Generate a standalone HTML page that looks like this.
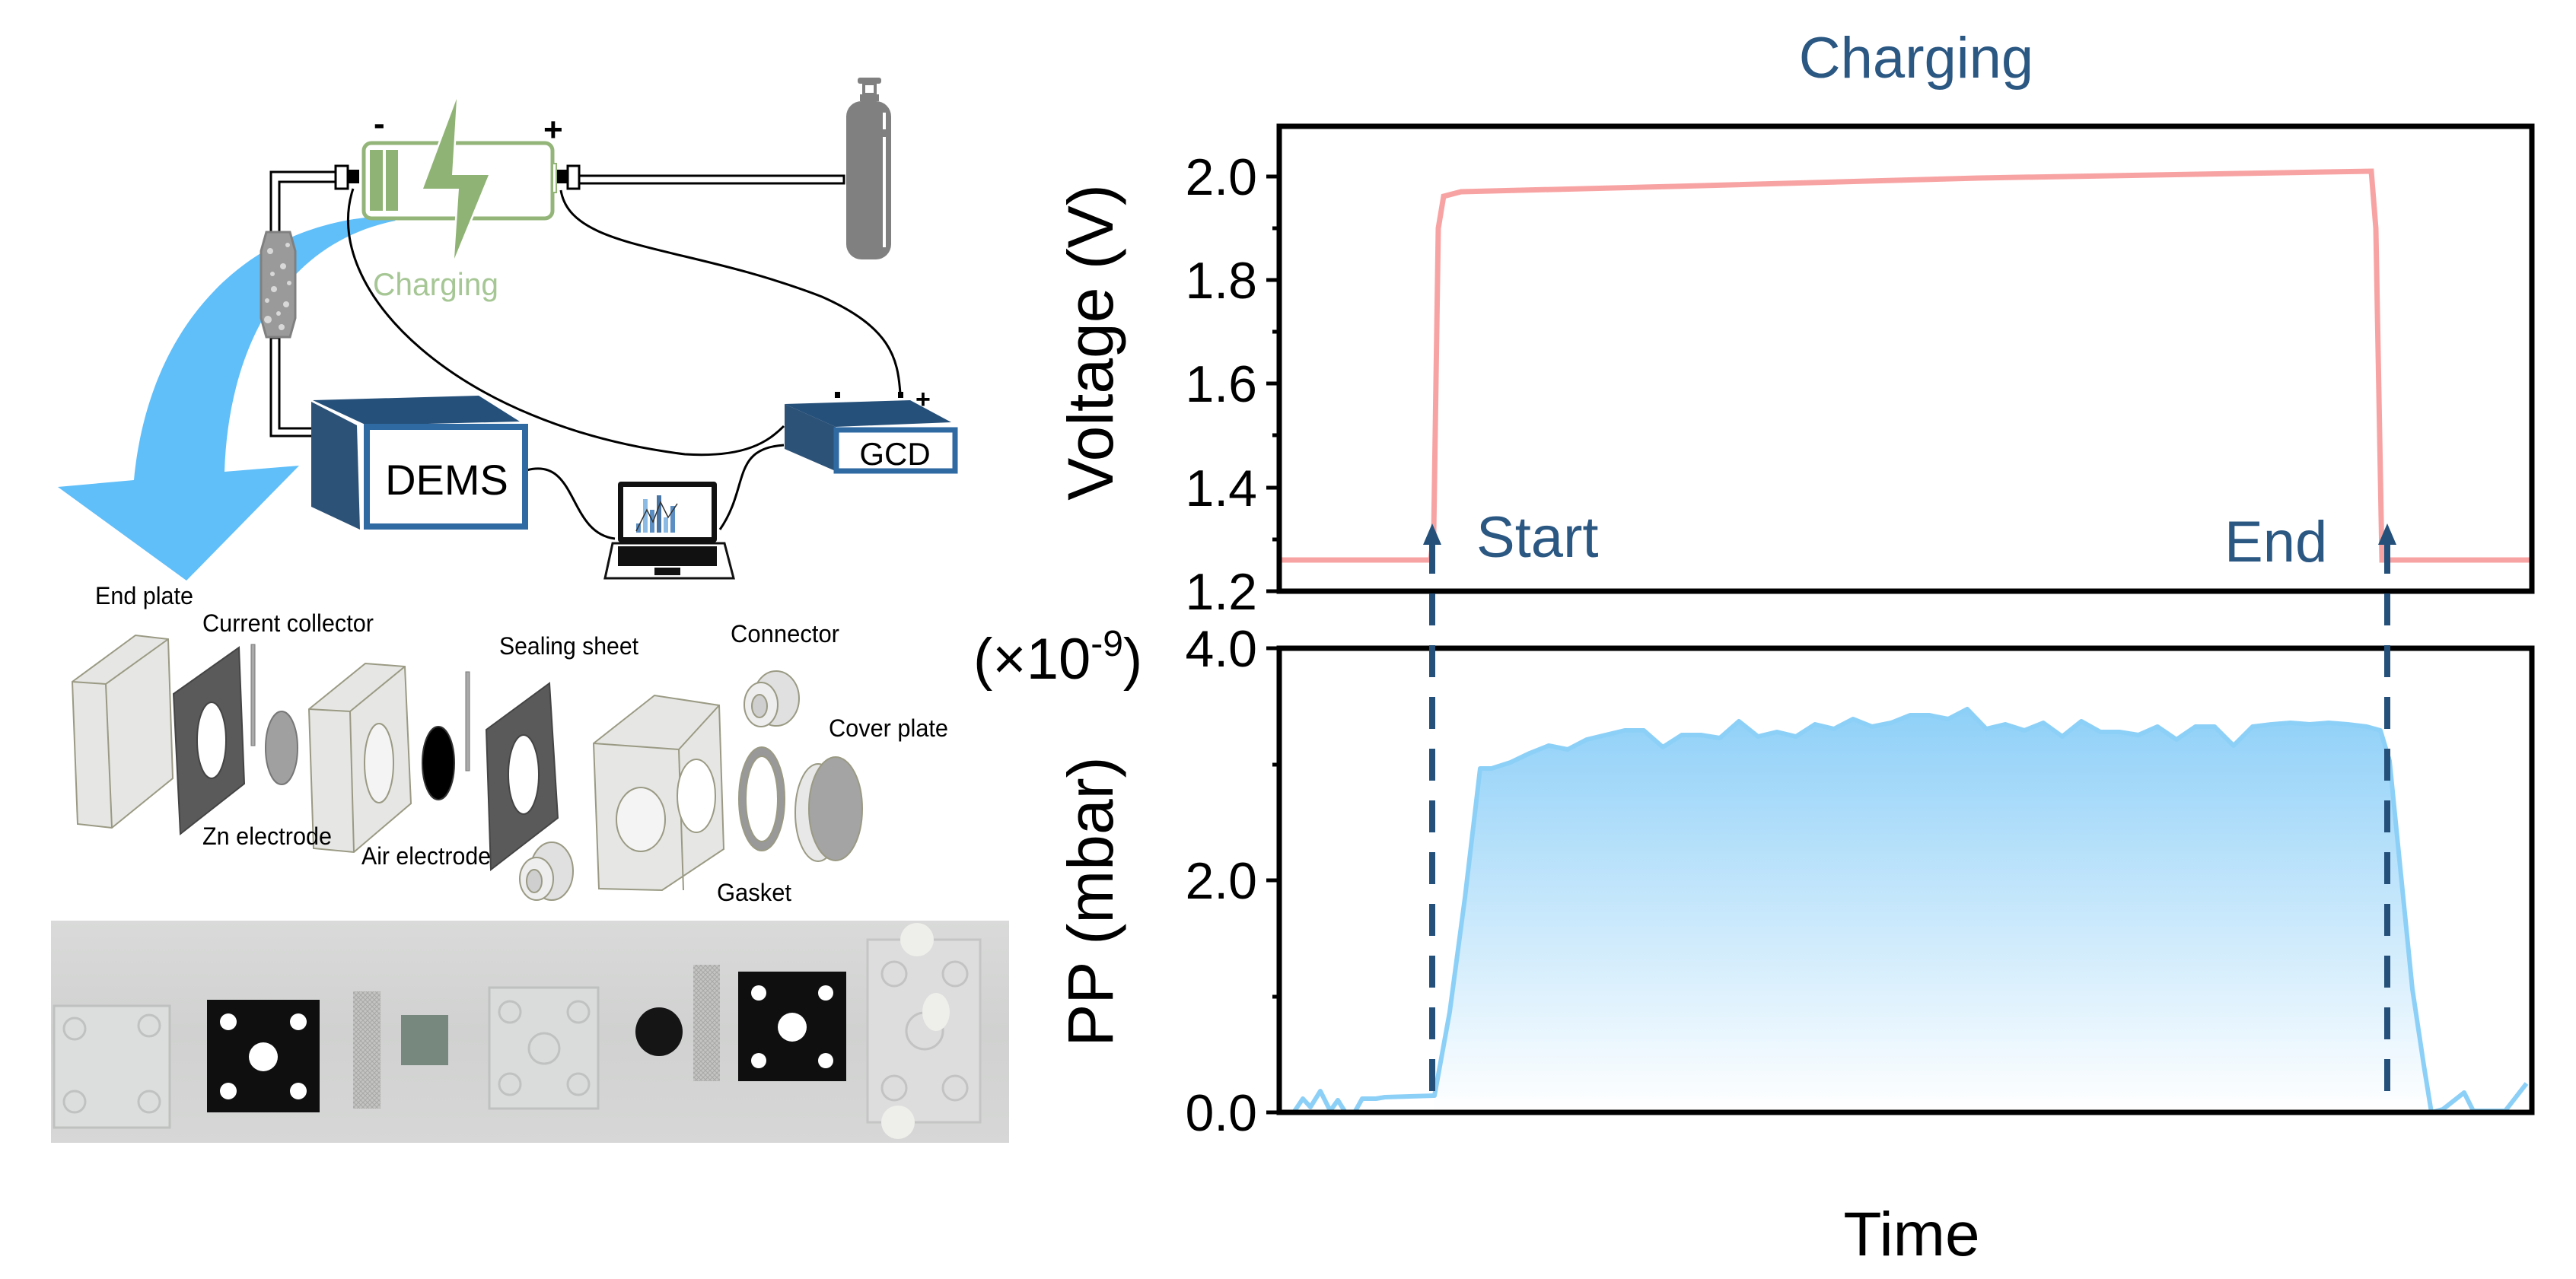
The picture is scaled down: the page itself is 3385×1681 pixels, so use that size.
<!DOCTYPE html>
<html><head><meta charset="utf-8"><style>
html,body{margin:0;padding:0;background:#fff;}
svg{display:block;}
text{font-family:"Liberation Sans",Arial,sans-serif;}
</style></head><body>
<svg width="3385" height="1681" viewBox="0 0 3385 1681" xmlns="http://www.w3.org/2000/svg">
<defs>
<linearGradient id="ppg" x1="0" y1="0" x2="0" y2="1">
<stop offset="0" stop-color="#8fd0f8"/><stop offset="1" stop-color="#ffffff"/>
</linearGradient>
<linearGradient id="photo" x1="0" y1="0" x2="0" y2="1">
<stop offset="0" stop-color="#d9dad9"/><stop offset="0.5" stop-color="#d0d1d0"/><stop offset="1" stop-color="#d6d7d6"/>
</linearGradient>
<pattern id="mesh" width="6" height="6" patternUnits="userSpaceOnUse">
<rect width="6" height="6" fill="#c4c4c2"/><path d="M0 0L6 6M6 0L0 6" stroke="#a8a8a6" stroke-width="1"/>
</pattern>
</defs>

<!-- ===== Blue arrow ===== -->
<path d="M505,284 C330,292 196,420 176,631 L76,640 L245,763 L393,612 L295,620 C300,460 370,320 520,290 Z" fill="#60bef9"/>

<!-- tubes -->
<path d="M441,226 L356,226 L356,305 L367,305 L367,239 L441,239 Z" fill="#fff" stroke="#000" stroke-width="3"/>
<path d="M356,444 L356,573 L462,573 L462,563 L367,563 L367,444 Z" fill="#fff" stroke="#000" stroke-width="3"/>
<rect x="761" y="231" width="348" height="10" fill="#fff" stroke="#000" stroke-width="3"/>
<!-- filter -->
<path d="M350,305 L381,305 L388,330 L388,418 L381,443 L350,443 L343,418 L343,330 Z" fill="#9a9a9a" stroke="#808080" stroke-width="3"/>
<g fill="#d8d8d8"><circle cx="355" cy="330" r="4"/><circle cx="372" cy="350" r="4"/><circle cx="360" cy="380" r="4"/><circle cx="376" cy="400" r="4"/><circle cx="352" cy="420" r="5"/><circle cx="370" cy="430" r="4"/><circle cx="358" cy="360" r="3"/><circle cx="378" cy="322" r="3"/><circle cx="366" cy="412" r="3"/><circle cx="351" cy="395" r="3"/><circle cx="380" cy="372" r="3"/></g>

<!-- connectors -->
<rect x="441" y="218" width="16" height="30" fill="#fff" stroke="#000" stroke-width="3"/>
<rect x="458" y="223" width="14" height="18" fill="#000"/>
<rect x="732" y="223" width="14" height="18" fill="#000"/>
<rect x="746" y="218" width="15" height="30" fill="#fff" stroke="#000" stroke-width="3"/>

<!-- battery -->
<rect x="478" y="188" width="248" height="99" rx="10" fill="#fff" stroke="#94b57a" stroke-width="5"/>
<rect x="726" y="215" width="5" height="38" fill="#fff" stroke="#94b57a" stroke-width="2"/>
<rect x="486" y="197" width="17" height="80" fill="#8fb374"/>
<rect x="507" y="197" width="16" height="80" fill="#8fb374"/>
<polygon points="600,130 556,248 603,248 597,340 642,230 594,230" fill="#8fb374" stroke="#fff" stroke-width="5" paint-order="stroke"/>
<text x="491" y="177" font-size="44" font-weight="bold">-</text>
<text x="714" y="185" font-size="44" font-weight="bold">+</text>
<text x="490" y="388" font-size="42" fill="#a6c795" textLength="165" lengthAdjust="spacingAndGlyphs">Charging</text>

<!-- gas cylinder -->
<rect x="1127" y="102" width="31" height="8" rx="3" fill="#808080"/>
<rect x="1135" y="110" width="15" height="14" fill="#fff" stroke="#808080" stroke-width="4"/>
<rect x="1130" y="124" width="25" height="9" fill="#808080"/>
<rect x="1112" y="133" width="59" height="208" rx="20" fill="#808080"/>
<rect x="1160" y="148" width="4" height="22" fill="#fff"/>
<rect x="1160" y="180" width="4" height="145" fill="#fff"/>

<!-- wires -->
<g fill="none" stroke="#000" stroke-width="3">
<path d="M464,248 C420,380 600,560 900,597 C980,602 1010,580 1030,560"/>
<path d="M737,250 C750,330 900,320 1080,390 C1170,430 1180,470 1183,518"/>
<path d="M692,618 C760,600 745,700 808,708"/>
<path d="M946,696 C985,640 960,590 1030,585"/>
</g>

<!-- DEMS -->
<polygon points="411,526 629,520 683,554 482,559" fill="#25507a"/>
<polygon points="409,528 469,559 473,696 409,666" fill="#2d5278"/>
<rect x="482" y="561" width="208" height="131" fill="#fff" stroke="#2f6aa3" stroke-width="8"/>
<text x="587" y="650" font-size="56" text-anchor="middle">DEMS</text>
<!-- GCD -->
<polygon points="1031,531 1196,526 1250,555 1098,561" fill="#25507a"/>
<polygon points="1031,531 1098,561 1100,620 1031,590" fill="#2d5278"/>
<rect x="1099" y="565" width="156" height="54" fill="#fff" stroke="#2f6aa3" stroke-width="7"/>
<text x="1176" y="611" font-size="42" text-anchor="middle">GCD</text>
<rect x="1097" y="515" width="7" height="8" fill="#000"/>
<rect x="1180" y="515" width="7" height="8" fill="#000"/>
<text x="1203" y="536" font-size="34" font-weight="bold">+</text>

<!-- laptop -->
<rect x="812" y="633" width="130" height="80" rx="4" fill="#111"/>
<rect x="819" y="640" width="116" height="66" fill="#fff"/>
<g fill="#5b8fc4"><rect x="836" y="688" width="6" height="12"/><rect x="845" y="656" width="6" height="44" fill="#8bbbe4"/><rect x="854" y="670" width="6" height="30"/><rect x="863" y="651" width="6" height="49" fill="#4a76a6"/><rect x="872" y="680" width="6" height="20" fill="#8bbbe4"/><rect x="881" y="665" width="6" height="35"/></g>
<path d="M836,698 L850,670 L858,686 L868,660 L878,680 L890,662" fill="none" stroke="#333" stroke-width="1.5"/>
<path d="M805,714 L952,714 L964,760 L795,760 Z" fill="#fff" stroke="#111" stroke-width="3"/>
<rect x="812" y="718" width="130" height="26" fill="#111"/>
<rect x="860" y="746" width="34" height="10" fill="#111"/>

<!-- ===== Exploded view ===== -->
<g font-size="32" fill="#000">
<text x="125" y="794" textLength="129" lengthAdjust="spacingAndGlyphs">End plate</text>
<text x="266" y="830" textLength="225" lengthAdjust="spacingAndGlyphs">Current collector</text>
<text x="656" y="860" textLength="183" lengthAdjust="spacingAndGlyphs">Sealing sheet</text>
<text x="960" y="844" textLength="143" lengthAdjust="spacingAndGlyphs">Connector</text>
<text x="1089" y="968" textLength="157" lengthAdjust="spacingAndGlyphs">Cover plate</text>
<text x="942" y="1184" textLength="98" lengthAdjust="spacingAndGlyphs">Gasket</text>
</g>
<g stroke="#9a9a84" stroke-width="2">
<!-- end plate -->
<polygon points="95,896 178,835 221,840 227,1023 147,1088 102,1083" fill="#e6e6e4"/>
<polyline points="95,896 139,899 221,840" fill="none"/><line x1="139" y1="899" x2="147" y2="1088"/>
<!-- sheet 1 -->
<polygon points="228,912 314,851 321,1030 237,1096" fill="#5a5a5a" stroke="#444"/>
<ellipse cx="278" cy="973" rx="19" ry="50" fill="#fff" stroke="#444"/>
<rect x="330" y="847" width="5" height="133" fill="#aaa" stroke="#777" stroke-width="1"/>
<ellipse cx="370" cy="983" rx="21" ry="48" fill="#a0a0a0" stroke="#777"/>
<!-- middle block -->
<polygon points="406,932 480,872 532,876 540,1056 465,1120 412,1115" fill="#e6e6e4"/>
<polyline points="406,932 460,935 532,876" fill="none"/><line x1="460" y1="935" x2="465" y2="1120"/>
<ellipse cx="498" cy="1003" rx="19" ry="52" fill="#f4f4f4"/>
<ellipse cx="576" cy="1003" rx="21" ry="48" fill="#000" stroke="#333"/>
<rect x="612" y="883" width="5" height="130" fill="#aaa" stroke="#777" stroke-width="1"/>
<!-- sheet 2 -->
<polygon points="639,959 722,898 733,1075 645,1143" fill="#5a5a5a" stroke="#444"/>
<ellipse cx="688" cy="1018" rx="20" ry="52" fill="#fff" stroke="#444"/>
<!-- lower connector -->
<ellipse cx="725" cy="1145" rx="28" ry="38" fill="#e0e0e0"/>
<ellipse cx="705" cy="1155" rx="22" ry="28" fill="#eee"/><ellipse cx="702" cy="1158" rx="10" ry="15" fill="#cfcfcf"/>
<!-- big block -->
<polygon points="780,977 860,914 945,927 951,1116 870,1170 787,1168" fill="#e6e6e4"/>
<polyline points="780,977 892,985 945,927" fill="none"/><line x1="892" y1="985" x2="898" y2="1170"/>
<ellipse cx="842" cy="1077" rx="32" ry="42" fill="#f4f4f4"/>
<ellipse cx="915" cy="1046" rx="25" ry="48" fill="#fff"/>
<!-- upper connector -->
<ellipse cx="1020" cy="918" rx="30" ry="36" fill="#e0e0e0"/>
<ellipse cx="1000" cy="926" rx="22" ry="29" fill="#eee"/><ellipse cx="998" cy="928" rx="10" ry="15" fill="#cfcfcf"/>
<!-- gasket -->
<ellipse cx="1001" cy="1050" rx="30" ry="68" fill="#999"/>
<ellipse cx="1001" cy="1050" rx="21" ry="56" fill="#fff"/>
<!-- cover plate -->
<ellipse cx="1075" cy="1068" rx="30" ry="64" fill="#e8e8e8"/>
<ellipse cx="1098" cy="1063" rx="35" ry="68" fill="#a4a4a4"/>
</g>
<g font-size="32" fill="#000">
<text x="266" y="1110" textLength="170" lengthAdjust="spacingAndGlyphs">Zn electrode</text>
<text x="475" y="1136" textLength="170" lengthAdjust="spacingAndGlyphs">Air electrode</text>
</g>

<!-- ===== Photo ===== -->
<rect x="67" y="1210" width="1259" height="292" fill="url(#photo)"/>
<rect x="71" y="1322" width="152" height="160" fill="#dcdedd" stroke="#bfc1c0" stroke-width="3"/>
<g fill="none" stroke="#c0c2c1" stroke-width="3"><circle cx="98" cy="1352" r="14"/><circle cx="196" cy="1348" r="14"/><circle cx="98" cy="1448" r="14"/><circle cx="196" cy="1448" r="14"/></g>
<rect x="272" y="1314" width="148" height="148" fill="#0f0f10"/>
<g fill="#fff"><circle cx="300" cy="1343" r="11"/><circle cx="392" cy="1343" r="11"/><circle cx="300" cy="1434" r="11"/><circle cx="392" cy="1434" r="11"/><circle cx="346" cy="1389" r="19"/></g>
<rect x="464" y="1303" width="36" height="154" fill="url(#mesh)"/>
<rect x="527" y="1334" width="62" height="66" fill="#77887f"/>
<rect x="643" y="1298" width="143" height="159" fill="#dadcdb" stroke="#bfc1c0" stroke-width="3"/>
<g fill="none" stroke="#c0c2c1" stroke-width="3"><circle cx="670" cy="1330" r="14"/><circle cx="760" cy="1330" r="14"/><circle cx="670" cy="1425" r="14"/><circle cx="760" cy="1425" r="14"/><circle cx="715" cy="1378" r="20"/></g>
<ellipse cx="866" cy="1356" rx="31" ry="32" fill="#151515"/>
<rect x="911" y="1268" width="35" height="153" fill="url(#mesh)"/>
<rect x="970" y="1277" width="142" height="144" fill="#0f0f10"/>
<g fill="#fff"><circle cx="997" cy="1305" r="10"/><circle cx="1085" cy="1305" r="10"/><circle cx="997" cy="1394" r="10"/><circle cx="1085" cy="1394" r="10"/><circle cx="1041" cy="1350" r="19"/></g>
<rect x="1140" y="1235" width="148" height="240" fill="#dcdddc" stroke="#c4c5c4" stroke-width="3"/>
<g fill="none" stroke="#c2c3c2" stroke-width="3"><circle cx="1175" cy="1280" r="16"/><circle cx="1255" cy="1280" r="16"/><circle cx="1175" cy="1430" r="16"/><circle cx="1255" cy="1430" r="16"/><circle cx="1215" cy="1355" r="24"/></g>
<g fill="#eeeeea"><ellipse cx="1205" cy="1235" rx="22" ry="22"/><ellipse cx="1180" cy="1475" rx="22" ry="22"/><ellipse cx="1230" cy="1330" rx="18" ry="25"/></g>

<!-- ===== Chart ===== -->
<text x="2518" y="102" font-size="76" fill="#2b5783" text-anchor="middle">Charging</text>
<!-- top plot -->
<polyline points="1681,736 1880,736 1884,700 1890,300 1897,258 1920,252 2200,245 2600,234 3000,227 3116,225 3122,300 3130,736 3327,736" fill="none" stroke="#f8a3a3" stroke-width="7"/>
<rect x="1681" y="166" width="1646" height="611" fill="none" stroke="#000" stroke-width="7"/>
<g stroke="#000" stroke-width="5">
<line x1="1664" y1="232" x2="1681" y2="232"/><line x1="1664" y1="368" x2="1681" y2="368"/><line x1="1664" y1="504" x2="1681" y2="504"/><line x1="1664" y1="641" x2="1681" y2="641"/><line x1="1664" y1="777" x2="1681" y2="777"/>
<line x1="1672" y1="300" x2="1681" y2="300"/><line x1="1672" y1="436" x2="1681" y2="436"/><line x1="1672" y1="572" x2="1681" y2="572"/><line x1="1672" y1="709" x2="1681" y2="709"/>
</g>
<g font-size="68" text-anchor="end">
<text x="1652" y="256">2.0</text><text x="1652" y="392">1.8</text><text x="1652" y="528">1.6</text><text x="1652" y="665">1.4</text><text x="1652" y="801">1.2</text>
</g>
<text transform="translate(1462,450) rotate(-90)" font-size="84" text-anchor="middle">Voltage (V)</text>
<text x="1940" y="732" font-size="76" fill="#2b5783">Start</text>
<text x="2923" y="738" font-size="76" fill="#2b5783">End</text>

<!-- bottom plot -->
<path d="M1885,1440 L1905,1330 L1925,1180 L1945,1010 L1960,1010 L1985,1002 L2010,990 L2035,980 L2060,985 L2085,972 L2110,966 L2135,960 L2160,960 L2185,982 L2210,966 L2235,966 L2260,970 L2285,948 L2310,968 L2335,962 L2360,968 L2385,952 L2410,958 L2435,945 L2460,955 L2485,950 L2510,940 L2535,940 L2560,945 L2585,932 L2610,958 L2635,952 L2660,960 L2685,950 L2710,968 L2735,948 L2760,962 L2785,962 L2810,966 L2835,955 L2860,972 L2885,955 L2910,955 L2935,980 L2960,955 L2985,952 L3010,950 L3035,952 L3060,950 L3085,952 L3110,955 L3128,960 L3140,1000 L3155,1150 L3170,1300 L3185,1400 L3195,1462 L1885,1462 Z" fill="url(#ppg)"/>
<polyline points="1700,1462 1712,1444 1722,1455 1735,1434 1748,1460 1758,1446 1768,1462 1780,1462 1790,1444 1808,1444 1820,1442 1885,1440 1905,1330 1925,1180 1945,1010 1960,1010 1985,1002 2010,990 2035,980 2060,985 2085,972 2110,966 2135,960 2160,960 2185,982 2210,966 2235,966 2260,970 2285,948 2310,968 2335,962 2360,968 2385,952 2410,958 2435,945 2460,955 2485,950 2510,940 2535,940 2560,945 2585,932 2610,958 2635,952 2660,960 2685,950 2710,968 2735,948 2760,962 2785,962 2810,966 2835,955 2860,972 2885,955 2910,955 2935,980 2960,955 2985,952 3010,950 3035,952 3060,950 3085,952 3110,955 3128,960 3140,1000 3155,1150 3170,1300 3185,1400 3195,1462 3210,1458 3238,1436 3250,1460 3292,1460 3320,1424" fill="none" stroke="#8dd0f7" stroke-width="6" stroke-linejoin="round"/>
<rect x="1681" y="852" width="1646" height="610" fill="none" stroke="#000" stroke-width="7"/>
<g stroke="#000" stroke-width="5">
<line x1="1664" y1="852" x2="1681" y2="852"/><line x1="1664" y1="1157" x2="1681" y2="1157"/><line x1="1664" y1="1462" x2="1681" y2="1462"/>
<line x1="1672" y1="1005" x2="1681" y2="1005"/><line x1="1672" y1="1310" x2="1681" y2="1310"/>
</g>
<g font-size="68" text-anchor="end">
<text x="1652" y="876">4.0</text><text x="1652" y="1181">2.0</text><text x="1652" y="1486">0.0</text>
</g>
<text x="1279" y="892" font-size="76">(×10<tspan font-size="48" dy="-30">-9</tspan><tspan dy="30">)</tspan></text>
<text transform="translate(1462,1185) rotate(-90)" font-size="84" text-anchor="middle">PP (mbar)</text>
<text x="2512" y="1650" font-size="82" text-anchor="middle">Time</text>

<!-- dashed markers -->
<g stroke="#24507a" stroke-width="8" stroke-dasharray="42,26">
<line x1="1882" y1="712" x2="1882" y2="1442"/>
<line x1="3137" y1="712" x2="3137" y2="1442"/>
</g>
<polygon points="1870,716 1894,716 1882,688" fill="#24507a"/>
<polygon points="3125,716 3149,716 3137,688" fill="#24507a"/>
</svg>
</body></html>
